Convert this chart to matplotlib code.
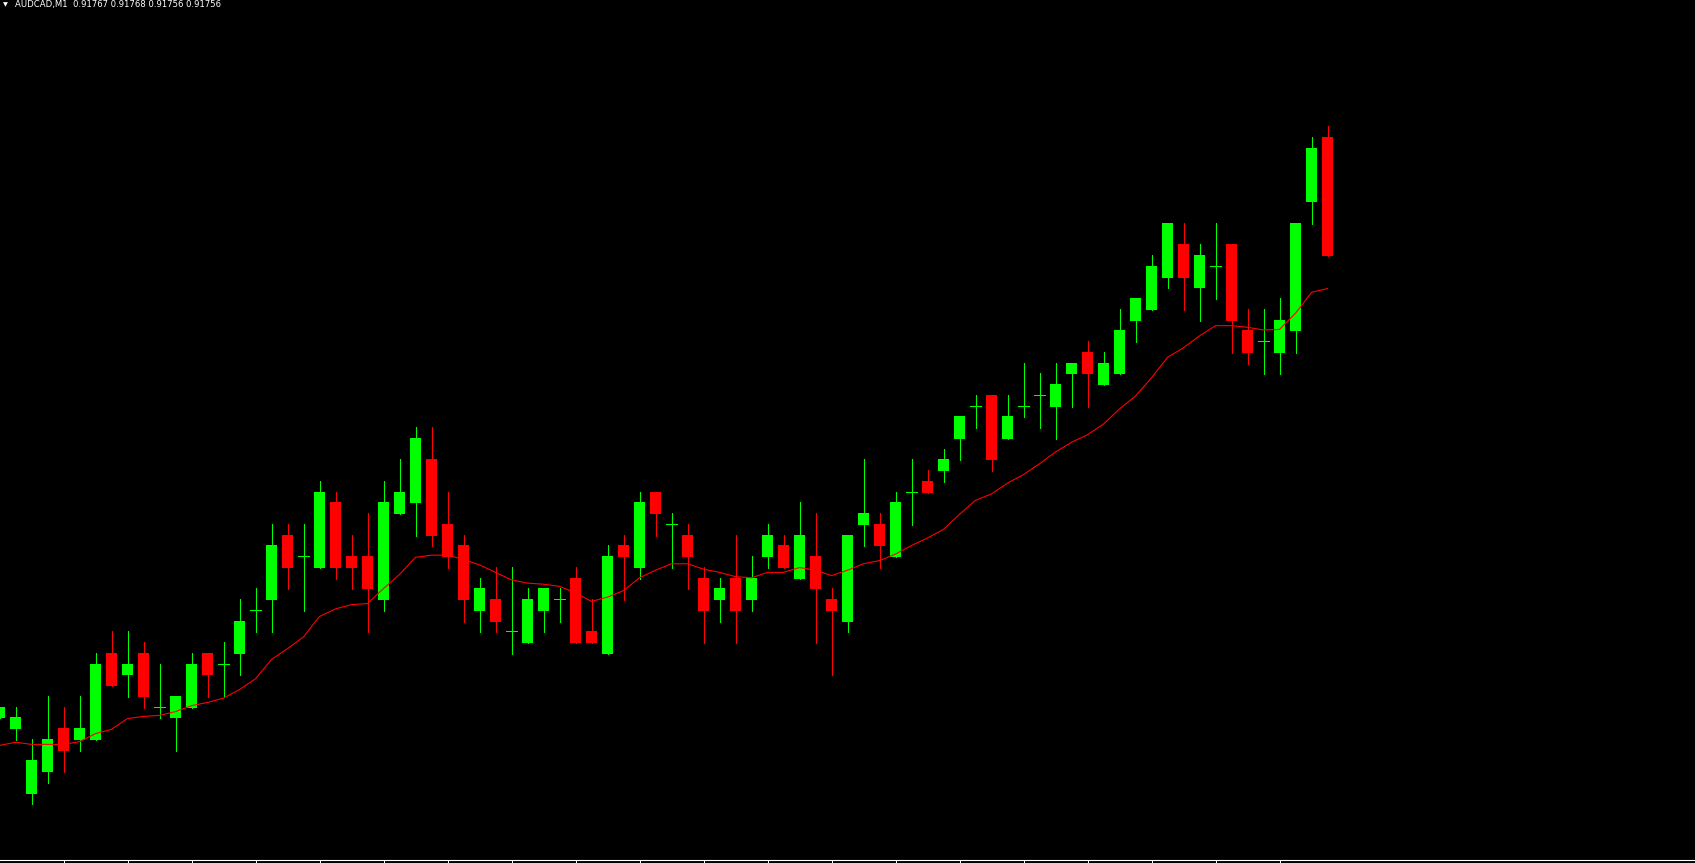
import numpy as np
import matplotlib
matplotlib.use("Agg")
import matplotlib.pyplot as plt

# --- data: AUDCAD M1, 84 bars ---
opens = [
    0.91713, 0.91712, 0.91706, 0.91708, 0.91712, 0.91711, 0.91711, 0.91719, 0.91717, 0.91719,
    0.91714, 0.91713, 0.91714, 0.91719, 0.91718, 0.91719, 0.91723, 0.91724, 0.91730, 0.91728,
    0.91727, 0.91733, 0.91728, 0.91728, 0.91724, 0.91732, 0.91733, 0.91737, 0.91731, 0.91729,
    0.91723, 0.91724, 0.91721, 0.91720, 0.91723, 0.91724, 0.91726, 0.91721, 0.91719, 0.91729,
    0.91727, 0.91734, 0.91731, 0.91730, 0.91726, 0.91724, 0.91726, 0.91724, 0.91728, 0.91729,
    0.91726, 0.91728, 0.91724, 0.91722, 0.91731, 0.91731, 0.91728, 0.91734, 0.91735, 0.91736,
    0.91739, 0.91742, 0.91743, 0.91739, 0.91742, 0.91743, 0.91742, 0.91745, 0.91747, 0.91744,
    0.91745, 0.91750, 0.91751, 0.91754, 0.91757, 0.91753, 0.91755, 0.91757, 0.91749, 0.91748,
    0.91747, 0.91749, 0.91761, 0.91767,
]
highs = [
    0.91714, 0.91714, 0.91711, 0.91715, 0.91714, 0.91715, 0.91719, 0.91721, 0.91721, 0.91720,
    0.91718, 0.91715, 0.91719, 0.91719, 0.91720, 0.91724, 0.91725, 0.91731, 0.91731, 0.91731,
    0.91735, 0.91734, 0.91730, 0.91732, 0.91735, 0.91737, 0.91740, 0.91740, 0.91734, 0.91730,
    0.91726, 0.91727, 0.91727, 0.91725, 0.91725, 0.91725, 0.91727, 0.91724, 0.91729, 0.91730,
    0.91734, 0.91734, 0.91732, 0.91731, 0.91727, 0.91726, 0.91730, 0.91728, 0.91731, 0.91730,
    0.91733, 0.91732, 0.91725, 0.91730, 0.91737, 0.91732, 0.91734, 0.91737, 0.91736, 0.91738,
    0.91741, 0.91743, 0.91743, 0.91743, 0.91746, 0.91745, 0.91746, 0.91746, 0.91748, 0.91747,
    0.91751, 0.91752, 0.91756, 0.91759, 0.91759, 0.91757, 0.91759, 0.91757, 0.91751, 0.91751,
    0.91752, 0.91759, 0.91767, 0.91768,
]
lows = [
    0.91713, 0.91711, 0.91705, 0.91707, 0.91708, 0.91710, 0.91711, 0.91716, 0.91715, 0.91714,
    0.91713, 0.91710, 0.91714, 0.91715, 0.91715, 0.91717, 0.91721, 0.91721, 0.91725, 0.91723,
    0.91727, 0.91726, 0.91725, 0.91721, 0.91723, 0.91732, 0.91730, 0.91729, 0.91727, 0.91722,
    0.91721, 0.91721, 0.91719, 0.91720, 0.91721, 0.91722, 0.91720, 0.91720, 0.91719, 0.91724,
    0.91726, 0.91730, 0.91727, 0.91725, 0.91720, 0.91722, 0.91720, 0.91723, 0.91727, 0.91727,
    0.91726, 0.91720, 0.91717, 0.91721, 0.91729, 0.91727, 0.91728, 0.91731, 0.91734, 0.91735,
    0.91737, 0.91740, 0.91736, 0.91739, 0.91741, 0.91740, 0.91739, 0.91742, 0.91742, 0.91744,
    0.91745, 0.91748, 0.91751, 0.91753, 0.91751, 0.91750, 0.91752, 0.91747, 0.91746, 0.91745,
    0.91745, 0.91747, 0.91759, 0.91756,
]
closes = [
    0.91714, 0.91713, 0.91709, 0.91711, 0.91710, 0.91712, 0.91718, 0.91716, 0.91718, 0.91715,
    0.91714, 0.91715, 0.91718, 0.91717, 0.91718, 0.91722, 0.91723, 0.91729, 0.91727, 0.91728,
    0.91734, 0.91727, 0.91727, 0.91725, 0.91733, 0.91734, 0.91739, 0.91730, 0.91728, 0.91724,
    0.91725, 0.91722, 0.91721, 0.91724, 0.91725, 0.91724, 0.91720, 0.91720, 0.91728, 0.91728,
    0.91733, 0.91732, 0.91731, 0.91728, 0.91723, 0.91725, 0.91723, 0.91726, 0.91730, 0.91727,
    0.91730, 0.91725, 0.91723, 0.91730, 0.91732, 0.91729, 0.91733, 0.91734, 0.91734, 0.91737,
    0.91741, 0.91742, 0.91737, 0.91741, 0.91742, 0.91743, 0.91744, 0.91746, 0.91745, 0.91746,
    0.91749, 0.91752, 0.91755, 0.91759, 0.91754, 0.91756, 0.91755, 0.91750, 0.91747, 0.91748,
    0.91750, 0.91759, 0.91766, 0.91756,
]
# moving average line (red), one value per bar
ma = [
    0.917104, 0.917107, 0.917105, 0.917105, 0.917105, 0.9171075, 0.917115, 0.917119, 0.917129, 0.917131,
    0.917132, 0.9171355, 0.917141, 0.917144, 0.917148, 0.917156, 0.917166, 0.917184, 0.917194, 0.917205,
    0.917224, 0.917231, 0.917235, 0.917236, 0.917250, 0.917263, 0.917279, 0.917281, 0.917281, 0.917277,
    0.917272, 0.917265, 0.917258, 0.917255, 0.917254, 0.917252, 0.917246, 0.917238, 0.917242, 0.917248,
    0.917260, 0.917267, 0.917273, 0.917273, 0.917268, 0.917265, 0.917261, 0.917260, 0.917265, 0.917265,
    0.9172695, 0.917267, 0.917262, 0.917267, 0.917273, 0.917276, 0.917282, 0.917290, 0.917297, 0.917305,
    0.917319, 0.917332, 0.917338, 0.917348, 0.917356, 0.917366, 0.917377, 0.917386, 0.917393, 0.917403,
    0.917417, 0.917429, 0.917446, 0.917465, 0.917474, 0.917485, 0.9174945, 0.9174945, 0.917493, 0.9174905,
    0.917491, 0.917506, 0.9175255, 0.917529,
]
title = "AUDCAD,M1  0.91767 0.91768 0.91756 0.91756"

# --- layout (pixel based, like the terminal) ---
W, H = 1695, 863
BAR_PX = 16          # bar spacing in pixels
PX_PER_POINT = 10.75 # vertical pixels per 0.00001
fig = plt.figure(figsize=(W / 100, H / 100), dpi=100, facecolor="black")
ax = fig.add_axes([0, 3 / H, 1, (H - 3) / H])
ax.set_facecolor("black")

x = np.arange(len(opens))
o = np.array(opens)
h = np.array(highs)
l = np.array(lows)
c = np.array(closes)
px = 0.00001 / PX_PER_POINT  # one pixel in price units

bull_col = "#00FF00"
bear_col = "#FF0000"
up = c >= o
cols = np.where(up, bull_col, bear_col)

# wicks
ax.vlines(x, l - px, h, colors=cols, linewidth=0.72, antialiased=False, zorder=2)

# bodies (doji drawn as a horizontal dash)
body_w = 11 / BAR_PX
doji = np.isclose(o, c)
ax.bar(x[~doji], np.abs(c - o)[~doji] + px, bottom=np.minimum(o, c)[~doji] - px,
       width=body_w, color=cols[~doji], linewidth=0, antialiased=False, zorder=3)
ax.hlines(c[doji], x[doji] - body_w / 2, x[doji] + body_w / 2, colors=cols[doji],
          linewidth=0.72, antialiased=False, zorder=3)

# moving average
ax.plot(x, ma, color="#FF0000", linewidth=0.8, zorder=4)

# axes limits in pixel terms
top_price = 0.91767 + 137 / PX_PER_POINT * 0.00001
ax.set_ylim(top_price - (H - 3) * px, top_price)
ax.set_xlim(0.5 / BAR_PX, (W + 0.5) / BAR_PX)

for s in ["top", "left", "right"]:
    ax.spines[s].set_visible(False)
ax.spines["bottom"].set_color("white")
ax.spines["bottom"].set_linewidth(0.8)
ax.set_yticks([])
ax.set_xticks(np.arange(4, 81, 4))
ax.tick_params(axis="x", direction="out", length=2.5, width=0.72, colors="white",
               labelbottom=False)

# header
fig.text(2.5 / W, 1 - 4.5 / H, "\u25BC", color="white", fontsize=4.6,
         family="DejaVu Sans", va="center", ha="left")
fig.text(15 / W, 1 - 7.5 / H, title, color="white", fontsize=6.1,
         family="DejaVu Sans", va="baseline", ha="left")

fig.savefig("out.png", dpi=100, facecolor="black")
